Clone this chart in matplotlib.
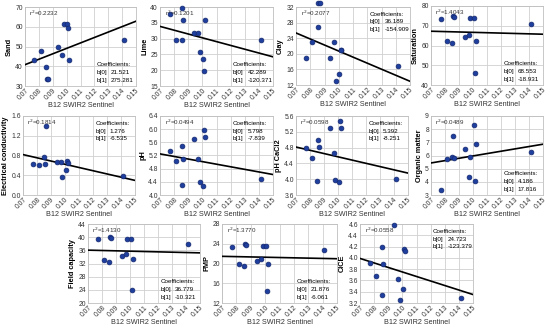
import matplotlib
matplotlib.use("Agg")
import matplotlib.pyplot as plt
import numpy as np

plt.rcParams['font.family'] = ['Liberation Sans', 'DejaVu Sans']

# Shared B12 SWIR2 Sentinel reflectance for the 12 samples
b12 = [0.0768, 0.0815, 0.0853, 0.0857, 0.0865, 0.0940, 0.0970, 0.0982, 0.1005, 0.1013, 0.1019, 0.1413]

sand = [43.4, 47.7, 39.6, 33.7, 33.7, 49.5, 45.6, 61.6, 61.6, 59.6, 43.4, 53.5]
lime = [37.7, 29.7, 29.7, 39.8, 35.8, 31.8, 31.8, 25.7, 23.7, 19.7, 35.8, 29.7]
clay = [18.9, 22.9, 33.0, 26.9, 33.0, 18.9, 22.9, 12.9, 14.9, 20.9, 20.9, 16.8]
saturation = [73.4, 62.4, 61.3, 75.0, 74.5, 64.5, 65.4, 73.8, 73.8, 45.9, 62.5, 70.9]
ec = [0.625, 0.598, 0.760, 0.625, 1.39, 0.672, 0.672, 0.363, 0.511, 0.692, 0.645, 0.376]
ph = [5.33, 5.03, 5.49, 4.31, 5.10, 5.70, 5.08, 4.39, 4.27, 5.97, 5.75, 4.49]
ph_cacl2 = [4.79, 4.54, 3.96, 4.99, 4.81, 5.30, 4.66, 3.97, 3.92, 5.47, 5.30, 4.01]
organic = [3.4, 5.71, 5.92, 7.51, 5.79, 6.48, 4.33, 5.92, 8.31, 4.04, 6.85, 6.27]
field_cap = [39.3, 33.2, 32.6, 40.2, 39.8, 34.4, 34.9, 39.4, 39.4, 24.0, 33.4, 38.0]
pmp = [23.4, 19.9, 19.5, 24.05, 23.8, 20.5, 20.85, 23.6, 23.6, 14.4, 19.9, 22.8]
cice = [3.915, 3.677, 3.349, 4.201, 3.897, 4.588, 3.617, 3.248, 3.445, 4.159, 4.124, 3.284]

names = ["Sand", "Lime", "Clay", "Saturation", "Electrical conductivity", "pH",
         "pH CaCl2", "Organic matter", "Field capacity", "PMP", "CICE"]
r2_text = ["0.2232", "0.1201", "0.2077", "1.4043", "0.1814", "0.0494",
           "0.0598", "0.0489", "1.4130", "1.3770", "0.0558"]
b0_text = ["21.521", "42.289", "36.189", "68.553", "1.276", "5.798",
           "5.392", "4.186", "36.779", "21.876", "24.723"]
b1_text = ["275.281", "-120.371", "-154.909", "-18.931", "-6.535", "-7.839",
           "-8.251", "17.816", "-10.321", "-6.061", "-123.379"]
# regression lines as drawn
line_b0 = [21.521, 42.289, 36.189, 68.553, 1.276, 5.798, 5.392, 4.186, 36.779, 21.876, 4.55]
line_b1 = [275.281, -120.371, -154.909, -18.931, -6.535, -7.839, -8.251, 17.816, -10.321, -6.061, -8.0]

x_ticks = [0.07, 0.08, 0.09, 0.10, 0.11, 0.12, 0.13, 0.14, 0.15]
y_ticks = [
    [30, 40, 50, 60, 70],
    [15, 20, 25, 30, 35, 40],
    [12, 16, 20, 24, 28, 32],
    [40, 50, 60, 70, 80],
    [0.0, 0.4, 0.8, 1.2, 1.6],
    [4.0, 4.4, 4.8, 5.2, 5.6, 6.0, 6.4],
    [3.6, 4.0, 4.4, 4.8, 5.2, 5.6],
    [3, 4, 5, 6, 7, 8, 9],
    [20, 24, 28, 32, 36, 40, 44],
    [12, 16, 20, 24, 28],
    [3.2, 3.4, 3.6, 3.8, 4.0, 4.2, 4.4, 4.6],
]
y_fmt = ["{:.0f}", "{:.0f}", "{:.0f}", "{:.0f}", "{:.1f}", "{:.1f}",
         "{:.1f}", "{:.0f}", "{:.0f}", "{:.0f}", "{:.1f}"]
coef_pos = ["br", "br", "tr", "br", "tr", "tr", "tr", "br", "br", "br", "tr"]

series = [sand, lime, clay, saturation, ec, ph, ph_cacl2, organic, field_cap, pmp, cice]

# axes boxes in pixels: left, right, top, bottom
boxes = [
    (25, 136, 7, 86), (160, 273, 7, 86), (296, 410, 7, 85), (431, 543, 6, 85),
    (23, 135, 116, 195), (160, 273, 116, 195), (296, 408, 116, 195), (431, 543, 116, 195),
    (88, 200, 224, 303), (222, 337, 224, 303), (360, 473, 224, 303),
]

W, H = 550, 331
fig = plt.figure(figsize=(W / 100, H / 100), dpi=100)

TK = 4.9
SM = 4.5

for i, (l, r, t, b) in enumerate(boxes):
    ax = fig.add_axes([l / W, 1 - b / H, (r - l) / W, (b - t) / H])
    yt = y_ticks[i]
    ax.set_xlim(0.07, 0.15)
    ax.set_ylim(yt[0], yt[-1])
    ax.set_xticks(x_ticks)
    ax.set_xticklabels(["{:.2f}".format(v) for v in x_ticks], rotation=45,
                       ha='right', rotation_mode='anchor', fontsize=TK, color='#333333')
    ax.set_yticks(yt)
    ax.set_yticklabels([y_fmt[i].format(v) for v in yt], fontsize=TK, color='#333333')
    ax.tick_params(axis='x', length=0, pad=0.8)
    ax.tick_params(axis='y', length=0, pad=1.5)
    ax.grid(True, color='#d0d0d0', lw=0.6)
    ax.set_axisbelow(True)
    for s in ax.spines.values():
        s.set_color('#bfbfbf')
        s.set_linewidth(0.6)
    ax.set_xlabel("B12 SWIR2 Sentinel", fontsize=5.2, labelpad=0.5, color='#333333')
    ax.set_ylabel(names[i], fontsize=5.3, fontweight='bold', labelpad=1.5)

    xl = np.array([0.07, 0.15])
    ax.plot(xl, line_b0[i] + line_b1[i] * xl, color='black', lw=1.2, zorder=3)
    ax.scatter(b12, series[i], s=12, color='#1f3f9f', edgecolor='#14286e',
               linewidth=0.5, zorder=4, clip_on=False)

    ax.text(0.04, 0.92, r"r$^{2}$=" + r2_text[i], transform=ax.transAxes,
            fontsize=SM, va='center', ha='left', color='#333333', zorder=5)

    if coef_pos[i] == "br":
        y0 = 0.27
    else:
        y0 = 0.91
    xc = 0.645
    ax.text(xc, y0, "Coefficients:", transform=ax.transAxes, fontsize=SM,
            va='center', ha='left', zorder=5)
    ax.text(xc, y0 - 0.1, "b[0]", transform=ax.transAxes, fontsize=SM,
            va='center', ha='left', zorder=5)
    ax.text(xc + 0.13, y0 - 0.1, b0_text[i], transform=ax.transAxes, fontsize=SM,
            va='center', ha='left', zorder=5)
    ax.text(xc, y0 - 0.2, "b[1]", transform=ax.transAxes, fontsize=SM,
            va='center', ha='left', zorder=5)
    ax.text(xc + 0.13, y0 - 0.2, b1_text[i], transform=ax.transAxes, fontsize=SM,
            va='center', ha='left', zorder=5)

fig.savefig("out.png", dpi=100)
